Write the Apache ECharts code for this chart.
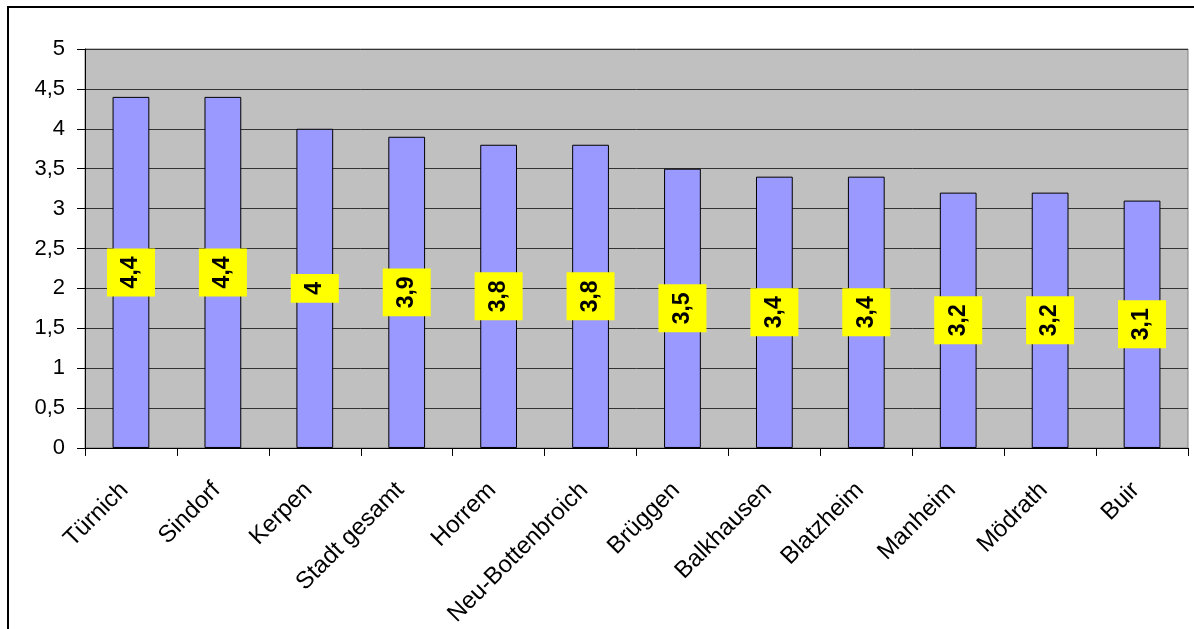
<!DOCTYPE html>
<html>
<head>
<meta charset="utf-8">
<script src="https://cdn.jsdelivr.net/npm/echarts@6/dist/echarts.min.js"></script>
<style>
html,body{margin:0;padding:0;background:#fff;}
#chart{width:1194px;height:629px;}
</style>
</head>
<body>
<div id="chart"></div>
<script>
const categories = ['Türnich','Sindorf','Kerpen','Stadt gesamt','Horrem','Neu-Bottenbroich','Brüggen','Balkhausen','Blatzheim','Manheim','Mödrath','Buir'];
const values = [4.4, 4.4, 4.0, 3.9, 3.8, 3.8, 3.5, 3.4, 3.4, 3.2, 3.2, 3.1];
const yTicks = [0, 0.5, 1, 1.5, 2, 2.5, 3, 3.5, 4, 4.5, 5];

const fmt = v => String(v).replace('.', ',');
const FONT = '"Liberation Sans", Arial, sans-serif';

const chart = echarts.init(document.getElementById('chart'), null, {renderer: 'canvas'});
chart.setOption({
  animation: false,
  backgroundColor: '#ffffff',
  graphic: [{
    type: 'rect',
    shape: {x: 8, y: 7, width: 1300, height: 800},
    style: {fill: 'none', stroke: '#000', lineWidth: 2},
    silent: true,
    z: 100
  }],
  grid: {
    left: 85, right: 6, top: 49, bottom: 180,
    show: true,
    backgroundColor: '#C0C0C0',
    borderColor: '#808080',
    borderWidth: 1
  },
  xAxis: {
    type: 'category',
    data: categories,
    axisLine: {show: true, lineStyle: {color: '#000', width: 1}},
    axisTick: {show: true, alignWithLabel: false, length: 8, lineStyle: {color: '#000'}},
    axisLabel: {
      rotate: 45,
      interval: 0,
      margin: 32,
      color: '#000',
      fontSize: 24,
      fontFamily: FONT,
      padding: [0, 9, 0, 0]
    },
    splitLine: {show: false}
  },
  yAxis: {
    type: 'value',
    min: yTicks[0],
    max: yTicks[yTicks.length - 1],
    interval: 0.5,
    axisLine: {show: true, lineStyle: {color: '#000', width: 1}},
    axisTick: {show: true, length: 8, lineStyle: {color: '#000'}},
    axisLabel: {
      margin: 20,
      color: '#000',
      fontSize: 22,
      fontFamily: FONT,
      formatter: v => fmt(v)
    },
    splitLine: {show: true, lineStyle: {color: '#333', width: 1}}
  },
  series: [{
    type: 'bar',
    data: values,
    barWidth: '40%',
    itemStyle: {color: '#9999FF', borderColor: '#000', borderWidth: 1},
    label: {
      show: true,
      position: 'inside',
      rotate: 90,
      formatter: p => fmt(p.value),
      backgroundColor: '#FFFF00',
      color: '#000',
      fontWeight: 'bold',
      fontSize: 23,
      lineHeight: 24,
      fontFamily: FONT,
      padding: [12, 8, 12, 8]
    }
  }]
});
</script>
</body>
</html>
